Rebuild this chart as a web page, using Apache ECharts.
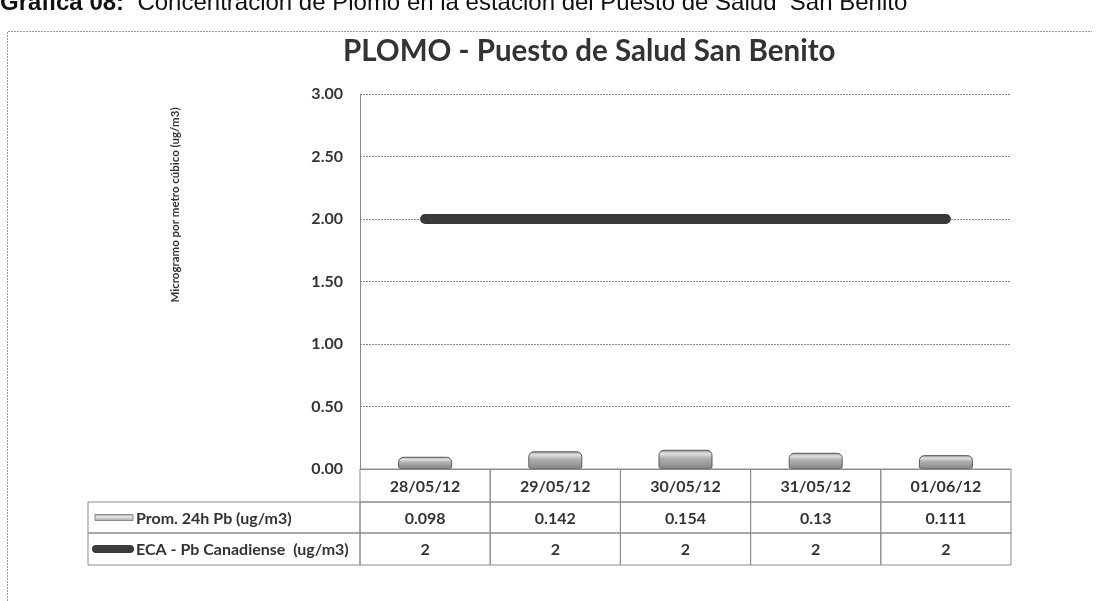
<!DOCTYPE html>
<html>
<head>
<meta charset="utf-8">
<script src="https://cdn.jsdelivr.net/npm/echarts@6/dist/echarts.min.js"></script>
<style>
html,body{margin:0;padding:0;background:#fff;}
#chart{width:1099px;height:601px;}
</style>
</head>
<body>
<div id="chart"></div>
<script>
// datos de la grafica
var fechas = ['28/05/12', '29/05/12', '30/05/12', '31/05/12', '01/06/12'];
var promPb = [0.098, 0.142, 0.154, 0.13, 0.111];
var ecaPb = [2, 2, 2, 2, 2];
var nombrePb = 'Prom. 24h Pb (ug/m3)';
var nombreEca = 'ECA - Pb Canadiense  (ug/m3)';

var txtColor = '#333';
var borde = '#8c8c8c';
var fuenteTabla = 'bold 16px Lato';

// tabla de datos debajo del eje x
function dibujaTabla(params, api){
	var i = api.value(0);
	var c = api.coord([i, 0]);
	var w = api.size([1, 0])[0];
	var x0 = c[0] - w / 2;
	var y0 = c[1];
	var filas = [y0, y0 + 33, y0 + 64, y0 + 96];
	var hijos = [];
	var celdas = [fechas[i], String(promPb[i]), String(ecaPb[i])];
	for (var r = 0; r < 3; r++) {
		hijos.push({
			type: 'rect',
			shape: {x: x0, y: filas[r], width: w, height: filas[r + 1] - filas[r]},
			style: {fill: 'none', stroke: borde, lineWidth: 1}
		});
		hijos.push({
			type: 'text',
			style: {
				text: celdas[r],
				x: c[0], y: (filas[r] + filas[r + 1]) / 2 + 1,
				align: 'center', verticalAlign: 'middle',
				font: fuenteTabla, fill: txtColor
			}
		});
	}
	if (i === 0) {
		var xl = 88;
		for (var r2 = 1; r2 < 3; r2++) {
			hijos.push({
				type: 'rect',
				shape: {x: xl, y: filas[r2], width: x0 - xl, height: filas[r2 + 1] - filas[r2]},
				style: {fill: 'none', stroke: borde, lineWidth: 1}
			});
		}
		// clave de la serie de barras
		var ym1 = (filas[1] + filas[2]) / 2;
		hijos.push({
			type: 'rect',
			shape: {x: 95, y: ym1 - 3, width: 38, height: 6},
			style: {
				fill: new echarts.graphic.LinearGradient(0, 0, 0, 1, [
					{offset: 0, color: '#9a9a9a'},
					{offset: 0.4, color: '#e6e6e6'},
					{offset: 1, color: '#a0a0a0'}
				]),
				stroke: '#8a8a8a', lineWidth: 1
			}
		});
		hijos.push({
			type: 'text',
			style: {text: nombrePb, x: 136, y: ym1 + 1, align: 'left', verticalAlign: 'middle', font: fuenteTabla, fill: txtColor}
		});
		// clave de la linea
		var ym2 = (filas[2] + filas[3]) / 2;
		hijos.push({
			type: 'line',
			shape: {x1: 96, y1: ym2, x2: 130, y2: ym2},
			style: {stroke: '#3c3c3c', lineWidth: 8, lineCap: 'round'}
		});
		hijos.push({
			type: 'text',
			style: {text: nombreEca, x: 136, y: ym2 + 1, align: 'left', verticalAlign: 'middle', font: fuenteTabla, fill: txtColor}
		});
	}
	return {type: 'group', children: hijos};
}

var myChart = echarts.init(document.getElementById('chart'));
var option = {
	backgroundColor: '#fff',
	animation: false,
	title: {
		text: 'PLOMO - Puesto de Salud San Benito',
		left: 338,
		top: 31,
		textStyle: {fontFamily: 'Lato', fontSize: 29.5, fontWeight: 'bold', color: txtColor}
	},
	grid: {left: 360, right: 88, top: 94, bottom: 132},
	xAxis: {
		type: 'category',
		data: fechas,
		axisLabel: {show: false},
		axisTick: {show: false},
		axisLine: {show: true, lineStyle: {color: borde}}
	},
	yAxis: {
		type: 'value',
		min: 0,
		max: 3,
		interval: 0.5,
		axisLabel: {
			formatter: function (v) { return v.toFixed(2); },
			fontFamily: 'Lato', fontSize: 16, fontWeight: 'bold', color: txtColor, margin: 17
		},
		axisLine: {show: true, lineStyle: {color: '#888'}},
		axisTick: {show: false},
		splitLine: {lineStyle: {color: '#8a8a8a', type: [2, 1], width: 1}}
	},
	graphic: [
		{
			type: 'text',
			left: 0,
			top: -9,
			style: {
				text: '{b|Gráfica 08:}  Concentración de Plomo en la estación del Puesto de Salud  San Benito',
				font: '24px "Liberation Sans"',
				fill: '#111',
				rich: {b: {font: 'bold 24px "Liberation Sans"', fill: '#111'}}
			}
		},
		{
			type: 'polyline',
			shape: {points: [[7.5, 601], [7.5, 31.5], [1092, 31.5]]},
			style: {fill: 'none', stroke: '#9a9a9a', lineWidth: 1, lineDash: [2, 1]}
		},
		{
			type: 'text',
			x: 175,
			y: 205,
			rotation: Math.PI / 2,
			style: {
				text: 'Microgramo por metro cúbico (ug/m3)',
				align: 'center', verticalAlign: 'middle',
				font: 'bold 11.5px Lato', fill: txtColor
			}
		}
	],
	series: [
		{
			name: nombrePb,
			type: 'bar',
			barWidth: 54,
			data: promPb,
			itemStyle: {
				color: new echarts.graphic.LinearGradient(0, 0, 0, 1, [
					{offset: 0, color: '#8a8a8a'},
					{offset: 0.2, color: '#e2e2e2'},
					{offset: 0.45, color: '#b0b0b0'},
					{offset: 1, color: '#858585'}
				]),
				borderColor: '#5a5a5a',
				borderWidth: 1,
				borderRadius: [5, 5, 2, 2]
			},
			z: 3
		},
		{
			name: nombreEca,
			type: 'line',
			data: ecaPb,
			symbol: 'none',
			lineStyle: {color: '#3a3a3a', width: 10, cap: 'round'},
			z: 4
		},
		{
			name: 'tabla',
			type: 'custom',
			renderItem: dibujaTabla,
			clip: false,
			silent: true,
			data: fechas.map(function (f, i) { return [i, 0]; }),
			z: 5
		}
	]
};
myChart.setOption(option);
</script>
</body>
</html>
